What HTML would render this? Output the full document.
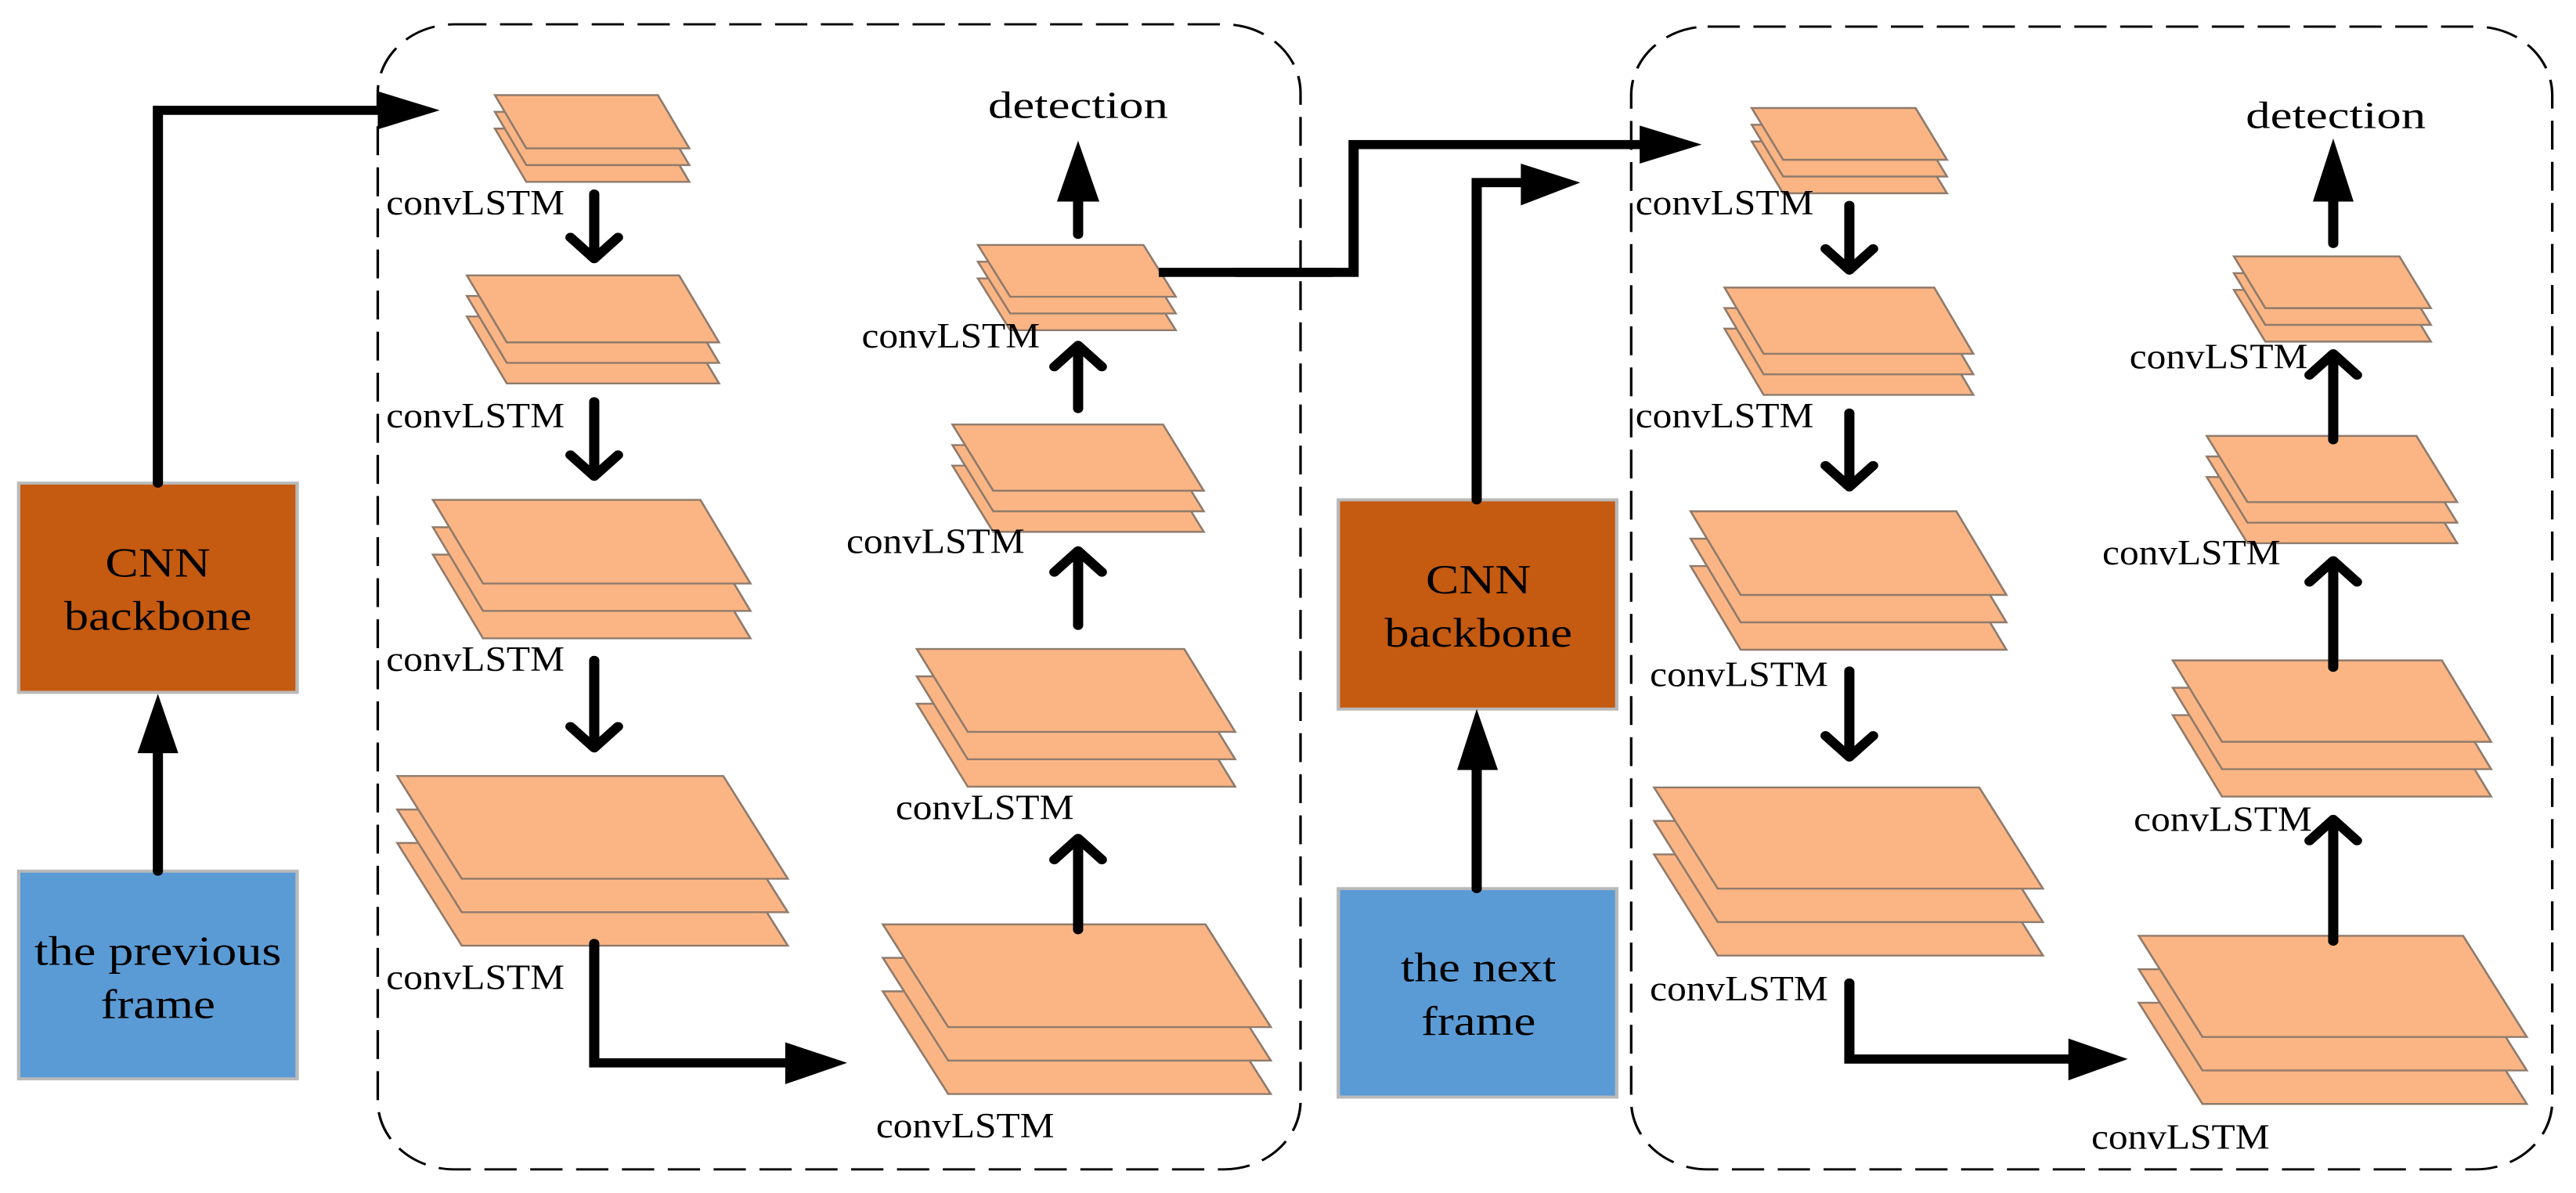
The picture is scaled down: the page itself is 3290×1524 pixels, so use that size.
<!DOCTYPE html>
<html><head><meta charset="utf-8">
<style>
html,body{margin:0;padding:0;background:#fff;}
svg{display:block;}
svg text{font-family:"Liberation Serif","DejaVu Serif",serif !important;fill:#000;}
</style></head>
<body>
<svg width="3290" height="1524" viewBox="0 0 3290 1524" xmlns="http://www.w3.org/2000/svg" font-family="Liberation Serif, DejaVu Serif, serif">
<defs>
<style>
.ly{fill:#FBB584;stroke:#8f7b6c;stroke-width:2.5;stroke-linejoin:miter;}
.ln{fill:none;stroke:#000;stroke-width:12;stroke-linecap:round;stroke-linejoin:miter;}
.cv{fill:none;stroke:#000;stroke-width:12;stroke-linecap:round;stroke-linejoin:round;}
.hd{fill:#000;}
.db{fill:none;stroke:#000;stroke-width:3;stroke-dasharray:38,16;}
.lb{font-size:47px;}
.bt{font-size:54px;}
</style>
</defs>

<!-- LEFT HALF -->
<g transform="scale(1.0842,0.9719)">
  <rect class="db" x="445" y="32" width="1087" height="1505" rx="90" ry="90"/>
  <rect x="22" y="635" width="328" height="275" fill="#C55A11" stroke="#b9b9b9" stroke-width="4"/>
  <rect x="22" y="1145" width="328" height="273" fill="#5B9BD5" stroke="#b9b9b9" stroke-width="4"/>
  <text font-family="Liberation Serif, serif" class="bt" x="186" y="758" text-anchor="middle" textLength="124" lengthAdjust="spacingAndGlyphs">CNN</text>
  <text font-family="Liberation Serif, serif" class="bt" x="186" y="828" text-anchor="middle" textLength="221" lengthAdjust="spacingAndGlyphs">backbone</text>
  <text font-family="Liberation Serif, serif" class="bt" x="186" y="1268" text-anchor="middle" textLength="291" lengthAdjust="spacingAndGlyphs">the previous</text>
  <text font-family="Liberation Serif, serif" class="bt" x="186" y="1338" text-anchor="middle" textLength="135" lengthAdjust="spacingAndGlyphs">frame</text>

  <g transform="translate(583,125)"><polygon class="ly" transform="translate(0,44)" points="0,0 192,0 229,70 37,70"/><polygon class="ly" transform="translate(0,22)" points="0,0 192,0 229,70 37,70"/><polygon class="ly" points="0,0 192,0 229,70 37,70"/></g>
  <g transform="translate(550,362)"><polygon class="ly" transform="translate(0,54)" points="0,0 250,0 297,88 47,88"/><polygon class="ly" transform="translate(0,27)" points="0,0 250,0 297,88 47,88"/><polygon class="ly" points="0,0 250,0 297,88 47,88"/></g>
  <g transform="translate(510,657)"><polygon class="ly" transform="translate(0,72)" points="0,0 315,0 374,110 59,110"/><polygon class="ly" transform="translate(0,36)" points="0,0 315,0 374,110 59,110"/><polygon class="ly" points="0,0 315,0 374,110 59,110"/></g>
  <g transform="translate(468,1020)"><polygon class="ly" transform="translate(0,88)" points="0,0 384,0 460,135 76,135"/><polygon class="ly" transform="translate(0,44)" points="0,0 384,0 460,135 76,135"/><polygon class="ly" points="0,0 384,0 460,135 76,135"/></g>
  <g transform="translate(1040,1215)"><polygon class="ly" transform="translate(0,88)" points="0,0 380,0 457,135 77,135"/><polygon class="ly" transform="translate(0,44)" points="0,0 380,0 457,135 77,135"/><polygon class="ly" points="0,0 380,0 457,135 77,135"/></g>
  <g transform="translate(1080,853)"><polygon class="ly" transform="translate(0,72)" points="0,0 315,0 375,109 60,109"/><polygon class="ly" transform="translate(0,36)" points="0,0 315,0 375,109 60,109"/><polygon class="ly" points="0,0 315,0 375,109 60,109"/></g>
  <g transform="translate(1122,558)"><polygon class="ly" transform="translate(0,54)" points="0,0 248,0 296,87 48,87"/><polygon class="ly" transform="translate(0,27)" points="0,0 248,0 296,87 48,87"/><polygon class="ly" points="0,0 248,0 296,87 48,87"/></g>
  <g transform="translate(1152,322)"><polygon class="ly" transform="translate(0,44)" points="0,0 195,0 233,68 38,68"/><polygon class="ly" transform="translate(0,22)" points="0,0 195,0 233,68 38,68"/><polygon class="ly" points="0,0 195,0 233,68 38,68"/></g>

  <text font-family="Liberation Serif, serif" class="lb" x="455" y="282" textLength="210" lengthAdjust="spacingAndGlyphs">convLSTM</text>
  <text font-family="Liberation Serif, serif" class="lb" x="455" y="562" textLength="210" lengthAdjust="spacingAndGlyphs">convLSTM</text>
  <text font-family="Liberation Serif, serif" class="lb" x="455" y="882" textLength="210" lengthAdjust="spacingAndGlyphs">convLSTM</text>
  <text font-family="Liberation Serif, serif" class="lb" x="455" y="1300" textLength="210" lengthAdjust="spacingAndGlyphs">convLSTM</text>
  <text font-family="Liberation Serif, serif" class="lb" x="1015" y="457" textLength="210" lengthAdjust="spacingAndGlyphs">convLSTM</text>
  <text font-family="Liberation Serif, serif" class="lb" x="997" y="727" textLength="210" lengthAdjust="spacingAndGlyphs">convLSTM</text>
  <text font-family="Liberation Serif, serif" class="lb" x="1055" y="1077" textLength="210" lengthAdjust="spacingAndGlyphs">convLSTM</text>
  <text font-family="Liberation Serif, serif" class="lb" x="1032" y="1495" textLength="210" lengthAdjust="spacingAndGlyphs">convLSTM</text>
  <text font-family="Liberation Serif, serif" class="lb" x="1270" y="155" text-anchor="middle" textLength="212" lengthAdjust="spacingAndGlyphs" style="font-size:50px">detection</text>

  <line class="ln" x1="186" y1="1145" x2="186" y2="985"/>
  <polygon class="hd" points="162,990 210,990 186,912"/>
  <polyline class="ln" points="186,635 186,145 450,145"/>
  <polygon class="hd" points="445,120 518,145 445,170"/>
  <polyline class="ln" points="700,1240 700,1397 930,1397"/>
  <polygon class="hd" points="925,1370 998,1397 925,1425"/>
  <line class="ln" x1="1270" y1="308" x2="1270" y2="260"/>
  <polygon class="hd" points="1245,265 1295,265 1270,185"/>
  <line class="ln" x1="1365" y1="358" x2="1570" y2="358" style="stroke-linecap:butt"/>

  <line class="cv" x1="700" y1="255" x2="700" y2="338"/><polyline class="cv" points="672,312 700,340 728,312"/>
  <line class="cv" x1="700" y1="528" x2="700" y2="625"/><polyline class="cv" points="672,598 700,626 728,598"/>
  <line class="cv" x1="700" y1="868" x2="700" y2="982"/><polyline class="cv" points="672,955 700,983 728,955"/>
  <line class="cv" x1="1270" y1="1222" x2="1270" y2="1103"/><polyline class="cv" points="1242,1130 1270,1102 1298,1130"/>
  <line class="cv" x1="1270" y1="822" x2="1270" y2="725"/><polyline class="cv" points="1242,752 1270,724 1298,752"/>
  <line class="cv" x1="1270" y1="537" x2="1270" y2="455"/><polyline class="cv" points="1242,482 1270,454 1298,482"/>
</g>

<!-- RIGHT HALF -->
<g transform="translate(1590,0) scale(1.0842,0.9719)">
  <rect class="db" x="455" y="35" width="1085" height="1502" rx="90" ry="90"/>
  <rect x="110" y="657" width="328" height="275" fill="#C55A11" stroke="#b9b9b9" stroke-width="4"/>
  <rect x="110" y="1168" width="328" height="274" fill="#5B9BD5" stroke="#b9b9b9" stroke-width="4"/>
  <text font-family="Liberation Serif, serif" class="bt" x="275" y="780" text-anchor="middle" textLength="124" lengthAdjust="spacingAndGlyphs">CNN</text>
  <text font-family="Liberation Serif, serif" class="bt" x="275" y="850" text-anchor="middle" textLength="221" lengthAdjust="spacingAndGlyphs">backbone</text>
  <text font-family="Liberation Serif, serif" class="bt" x="275" y="1290" text-anchor="middle" textLength="183" lengthAdjust="spacingAndGlyphs">the next</text>
  <text font-family="Liberation Serif, serif" class="bt" x="275" y="1360" text-anchor="middle" textLength="135" lengthAdjust="spacingAndGlyphs">frame</text>

  <g transform="translate(597,142)"><polygon class="ly" transform="translate(0,44)" points="0,0 193,0 230,68 37,68"/><polygon class="ly" transform="translate(0,22)" points="0,0 193,0 230,68 37,68"/><polygon class="ly" points="0,0 193,0 230,68 37,68"/></g>
  <g transform="translate(565,378)"><polygon class="ly" transform="translate(0,54)" points="0,0 247,0 293,87 46,87"/><polygon class="ly" transform="translate(0,27)" points="0,0 247,0 293,87 46,87"/><polygon class="ly" points="0,0 247,0 293,87 46,87"/></g>
  <g transform="translate(525,672)"><polygon class="ly" transform="translate(0,72)" points="0,0 313,0 372,110 59,110"/><polygon class="ly" transform="translate(0,36)" points="0,0 313,0 372,110 59,110"/><polygon class="ly" points="0,0 313,0 372,110 59,110"/></g>
  <g transform="translate(482,1035)"><polygon class="ly" transform="translate(0,88)" points="0,0 383,0 458,133 75,133"/><polygon class="ly" transform="translate(0,44)" points="0,0 383,0 458,133 75,133"/><polygon class="ly" points="0,0 383,0 458,133 75,133"/></g>
  <g transform="translate(1053,1230)"><polygon class="ly" transform="translate(0,88)" points="0,0 382,0 457,133 75,133"/><polygon class="ly" transform="translate(0,44)" points="0,0 382,0 457,133 75,133"/><polygon class="ly" points="0,0 382,0 457,133 75,133"/></g>
  <g transform="translate(1093,868)"><polygon class="ly" transform="translate(0,72)" points="0,0 317,0 375,107 58,107"/><polygon class="ly" transform="translate(0,36)" points="0,0 317,0 375,107 58,107"/><polygon class="ly" points="0,0 317,0 375,107 58,107"/></g>
  <g transform="translate(1133,573)"><polygon class="ly" transform="translate(0,54)" points="0,0 247,0 295,87 48,87"/><polygon class="ly" transform="translate(0,27)" points="0,0 247,0 295,87 48,87"/><polygon class="ly" points="0,0 247,0 295,87 48,87"/></g>
  <g transform="translate(1165,337)"><polygon class="ly" transform="translate(0,44)" points="0,0 195,0 232,68 37,68"/><polygon class="ly" transform="translate(0,22)" points="0,0 195,0 232,68 37,68"/><polygon class="ly" points="0,0 195,0 232,68 37,68"/></g>

  <text font-family="Liberation Serif, serif" class="lb" x="460" y="282" textLength="210" lengthAdjust="spacingAndGlyphs">convLSTM</text>
  <text font-family="Liberation Serif, serif" class="lb" x="460" y="562" textLength="210" lengthAdjust="spacingAndGlyphs">convLSTM</text>
  <text font-family="Liberation Serif, serif" class="lb" x="477" y="902" textLength="210" lengthAdjust="spacingAndGlyphs">convLSTM</text>
  <text font-family="Liberation Serif, serif" class="lb" x="477" y="1315" textLength="210" lengthAdjust="spacingAndGlyphs">convLSTM</text>
  <text font-family="Liberation Serif, serif" class="lb" x="1042" y="484" textLength="210" lengthAdjust="spacingAndGlyphs">convLSTM</text>
  <text font-family="Liberation Serif, serif" class="lb" x="1010" y="742" textLength="210" lengthAdjust="spacingAndGlyphs">convLSTM</text>
  <text font-family="Liberation Serif, serif" class="lb" x="1047" y="1092" textLength="210" lengthAdjust="spacingAndGlyphs">convLSTM</text>
  <text font-family="Liberation Serif, serif" class="lb" x="997" y="1510" textLength="210" lengthAdjust="spacingAndGlyphs">convLSTM</text>
  <text font-family="Liberation Serif, serif" class="lb" x="1285" y="168" text-anchor="middle" textLength="212" lengthAdjust="spacingAndGlyphs" style="font-size:50px">detection</text>

  <polyline class="ln" points="-10,358 128,358 128,190 470,190"/>
  <polygon class="hd" points="465,165 538,190 465,215"/>
  <line class="ln" x1="273" y1="1168" x2="273" y2="1005"/>
  <polygon class="hd" points="250,1012 298,1012 273,932"/>
  <polyline class="ln" points="273,657 273,240 330,240"/>
  <polygon class="hd" points="325,215 395,240 325,270"/>
  <polyline class="ln" points="712,1292 712,1392 975,1392"/>
  <polygon class="hd" points="970,1365 1040,1392 970,1420"/>
  <line class="ln" x1="1282" y1="320" x2="1282" y2="262"/>
  <polygon class="hd" points="1258,265 1306,265 1282,182"/>

  <line class="cv" x1="712" y1="270" x2="712" y2="353"/><polyline class="cv" points="684,327 712,355 740,327"/>
  <line class="cv" x1="712" y1="543" x2="712" y2="638"/><polyline class="cv" points="684,612 712,640 740,612"/>
  <line class="cv" x1="712" y1="882" x2="712" y2="993"/><polyline class="cv" points="684,967 712,995 740,967"/>
  <line class="cv" x1="1282" y1="1237" x2="1282" y2="1078"/><polyline class="cv" points="1254,1105 1282,1077 1310,1105"/>
  <line class="cv" x1="1282" y1="877" x2="1282" y2="738"/><polyline class="cv" points="1254,765 1282,737 1310,765"/>
  <line class="cv" x1="1282" y1="578" x2="1282" y2="466"/><polyline class="cv" points="1254,493 1282,465 1310,493"/>
</g>
</svg>
</body></html>
